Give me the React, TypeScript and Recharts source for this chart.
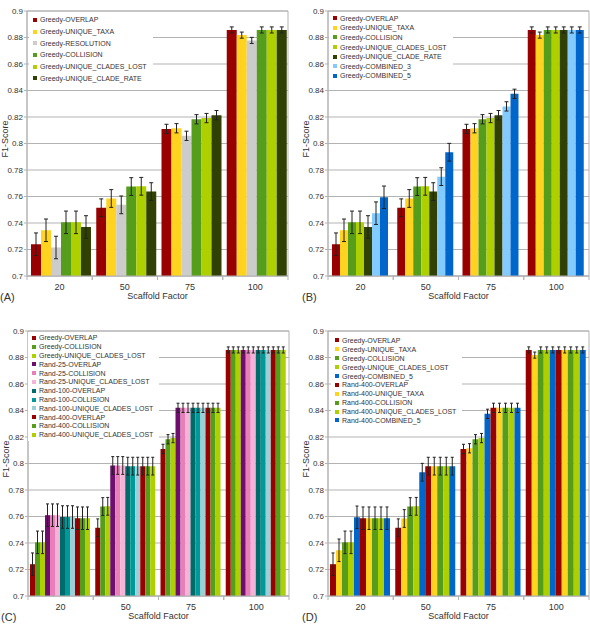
import React from "react";
import {
  BarChart,
  Bar,
  XAxis,
  YAxis,
  CartesianGrid,
  ErrorBar,
  Legend,
  ReferenceArea,
} from "recharts";

const FONT = "'Liberation Sans', Arial, sans-serif";
const TEXT = "#333";
const GRID = "#b3b3b3";

// scaffold factors on the x axis
const factors = ["20", "50", "75", "100"];
// standard error, roughly the same for every method at a given factor
const errorByFactor = [0.0085, 0.0067, 0.0035, 0.0023];
const yTicks = [0.7, 0.72, 0.74, 0.76, 0.78, 0.8, 0.82, 0.84, 0.86, 0.88, 0.9];

// F1-scores per method, one value per scaffold factor
const greedyOverlap = [0.724, 0.7515, 0.811, 0.8857];
const greedyUniqueTaxa = [0.7345, 0.7585, 0.8115, 0.8818];
const greedyResolution = [0.7215, 0.7537, 0.8058, 0.8778];
const greedyCollision = [0.7405, 0.7675, 0.8183, 0.8857];
const greedyCladesLost = [0.7405, 0.7677, 0.8192, 0.8857];
const greedyCladeRate = [0.737, 0.7637, 0.8214, 0.8857];
const greedyCombined3 = [0.7474, 0.775, 0.828, 0.8857];
const greedyCombined5 = [0.7594, 0.7934, 0.8375, 0.8857];
const rand25 = [0.761, 0.7985, 0.842, 0.8857];
const rand100 = [0.7596, 0.798, 0.842, 0.8857];
const rand400 = [0.7587, 0.798, 0.842, 0.8857];

const C = {
  overlap: "#990000",
  uniqueTaxa: "#ffd320",
  resolution: "#cccccc",
  collision: "#579d1c",
  cladesLost: "#aecf00",
  cladeRate: "#314004",
  combined3: "#83caff",
  combined5: "#0066cc",
  r25Overlap: "#6e0f6e",
  r25Collision: "#e87fb8",
  r25CladesLost: "#f6b3d8",
  r100Overlap: "#006b6b",
  r100Collision: "#009999",
  r100CladesLost: "#9fcfd6",
};

type Series = { name: string; values: number[]; color: string };

const seriesA: Series[] = [
  { name: "Greedy-OVERLAP", values: greedyOverlap, color: C.overlap },
  { name: "Greedy-UNIQUE_TAXA", values: greedyUniqueTaxa, color: C.uniqueTaxa },
  { name: "Greedy-RESOLUTION", values: greedyResolution, color: C.resolution },
  { name: "Greedy-COLLISION", values: greedyCollision, color: C.collision },
  { name: "Greedy-UNIQUE_CLADES_LOST", values: greedyCladesLost, color: C.cladesLost },
  { name: "Greedy-UNIQUE_CLADE_RATE", values: greedyCladeRate, color: C.cladeRate },
];

const seriesB: Series[] = [
  { name: "Greedy-OVERLAP", values: greedyOverlap, color: C.overlap },
  { name: "Greedy-UNIQUE_TAXA", values: greedyUniqueTaxa, color: C.uniqueTaxa },
  { name: "Greedy-COLLISION", values: greedyCollision, color: C.collision },
  { name: "Greedy-UNIQUE_CLADES_LOST", values: greedyCladesLost, color: C.cladesLost },
  { name: "Greedy-UNIQUE_CLADE_RATE", values: greedyCladeRate, color: C.cladeRate },
  { name: "Greedy-COMBINED_3", values: greedyCombined3, color: C.combined3 },
  { name: "Greedy-COMBINED_5", values: greedyCombined5, color: C.combined5 },
];

const seriesC: Series[] = [
  { name: "Greedy-OVERLAP", values: greedyOverlap, color: C.overlap },
  { name: "Greedy-COLLISION", values: greedyCollision, color: C.collision },
  { name: "Greedy-UNIQUE_CLADES_LOST", values: greedyCladesLost, color: C.cladesLost },
  { name: "Rand-25-OVERLAP", values: rand25, color: C.r25Overlap },
  { name: "Rand-25-COLLISION", values: rand25, color: C.r25Collision },
  { name: "Rand-25-UNIQUE_CLADES_LOST", values: rand25, color: C.r25CladesLost },
  { name: "Rand-100-OVERLAP", values: rand100, color: C.r100Overlap },
  { name: "Rand-100-COLLISION", values: rand100, color: C.r100Collision },
  { name: "Rand-100-UNIQUE_CLADES_LOST", values: rand100, color: C.r100CladesLost },
  { name: "Rand-400-OVERLAP", values: rand400, color: C.overlap },
  { name: "Rand-400-COLLISION", values: rand400, color: C.collision },
  { name: "Rand-400-UNIQUE_CLADES_LOST", values: rand400, color: C.cladesLost },
];

const seriesD: Series[] = [
  { name: "Greedy-OVERLAP", values: greedyOverlap, color: C.overlap },
  { name: "Greedy-UNIQUE_TAXA", values: greedyUniqueTaxa, color: C.uniqueTaxa },
  { name: "Greedy-COLLISION", values: greedyCollision, color: C.collision },
  { name: "Greedy-UNIQUE_CLADES_LOST", values: greedyCladesLost, color: C.cladesLost },
  { name: "Greedy-COMBINED_5", values: greedyCombined5, color: C.combined5 },
  { name: "Rand-400-OVERLAP", values: rand400, color: C.overlap },
  { name: "Rand-400-UNIQUE_TAXA", values: rand400, color: C.uniqueTaxa },
  { name: "Rand-400-COLLISION", values: rand400, color: C.collision },
  { name: "Rand-400-UNIQUE_CLADES_LOST", values: rand400, color: C.cladesLost },
  { name: "Rand-400-COMBINED_5", values: rand400, color: C.combined5 },
];

const buildRows = (series: Series[]) =>
  factors.map((factor, i) => {
    const row: Record<string, string | number> = { factor };
    series.forEach((s, j) => {
      row[`v${j}`] = s.values[i];
      row[`e${j}`] = errorByFactor[i];
    });
    return row;
  });

interface PanelProps {
  tag: string;
  series: Series[];
  left: number;
  top: number;
  yAxisWidth: number;
  marginRight: number;
  gap: number;
  cap: number;
  legendLeft: number;
  legendTop: number;
  rowHeight: number;
}

const W = 295;
const H = 300;
const M_TOP = 11;
const X_AXIS_H = 24;

const Panel: React.FC<PanelProps> = (p) => {
  const data = buildRows(p.series);
  const plotW = W - p.yAxisWidth - p.marginRight;
  const band = plotW / factors.length;

  // category label plus short ticks on the band edges
  const FactorTick = (t: any) => {
    const axisY = t.y - 6;
    return (
      <g>
        <line x1={t.x - band / 2} x2={t.x - band / 2} y1={axisY} y2={axisY + 4} stroke={GRID} />
        <line x1={t.x + band / 2} x2={t.x + band / 2} y1={axisY} y2={axisY + 4} stroke={GRID} />
        <text x={t.x} y={t.y} dy={8} textAnchor="middle" fontSize={9} fill={TEXT}>
          {t.payload.value}
        </text>
      </g>
    );
  };

  const LegendBox = () => (
    <div style={{ background: "#fff", padding: "2px 6px 2px 4px", fontSize: 7, color: TEXT }}>
      {p.series.map((s) => (
        <div
          key={s.name}
          style={{ display: "flex", alignItems: "center", height: p.rowHeight, whiteSpace: "nowrap" }}
        >
          <span style={{ width: 4, height: 4, background: s.color, marginRight: 3, flex: "none" }} />
          {s.name}
        </div>
      ))}
    </div>
  );

  return (
    <div style={{ position: "absolute", left: p.left, top: p.top, width: W, height: H }}>
      <BarChart
        width={W}
        height={H}
        data={data}
        margin={{ top: M_TOP, right: p.marginRight, bottom: 0, left: 0 }}
        barGap={0}
        barCategoryGap={p.gap}
      >
        <CartesianGrid vertical={false} stroke={GRID} />
        <ReferenceArea y1={0.7} y2={0.9} fill="none" stroke={GRID} ifOverflow="visible" />
        <XAxis
          dataKey="factor"
          height={X_AXIS_H}
          axisLine={{ stroke: GRID }}
          tickLine={false}
          tickSize={4}
          tickMargin={2}
          tick={FactorTick}
          interval={0}
          label={{ value: "Scaffold Factor", position: "insideBottom", offset: 1, fontSize: 9, fill: TEXT }}
        />
        <YAxis
          domain={[0.7, 0.9]}
          ticks={yTicks}
          interval={0}
          allowDataOverflow
          width={p.yAxisWidth}
          axisLine={{ stroke: GRID }}
          tickLine={{ stroke: GRID }}
          tickSize={3}
          tickMargin={1}
          tick={{ fontSize: 8, fill: TEXT }}
        />
        <Legend
          layout="vertical"
          align="center"
          verticalAlign="middle"
          wrapperStyle={{ top: p.legendTop, left: p.legendLeft, width: "auto", height: "auto" }}
          content={() => <LegendBox />}
        />
        {p.series.map((s, j) => (
          <Bar key={j} dataKey={`v${j}`} name={s.name} fill={s.color} isAnimationActive={false}>
            <ErrorBar dataKey={`e${j}`} width={p.cap} stroke="#222" strokeWidth={1} />
          </Bar>
        ))}
      </BarChart>
      <div
        style={{
          position: "absolute",
          left: p.yAxisWidth - 22,
          top: M_TOP + (H - M_TOP - X_AXIS_H) / 2 - 5,
          transform: "translate(-50%, -50%) rotate(-90deg)",
          fontSize: 9,
          color: TEXT,
          whiteSpace: "nowrap",
        }}
      >
        F1-Score
      </div>
      <div
        style={{
          position: "absolute",
          left: p.yAxisWidth - 27 + (p.left > 0 ? 1 : 0),
          top: H - 9,
          fontSize: 11,
          color: TEXT,
          whiteSpace: "nowrap",
        }}
      >
        ({p.tag})
      </div>
    </div>
  );
};

export default function App() {
  return (
    <div
      style={{
        position: "absolute",
        left: 0,
        top: 0,
        width: 590,
        height: 629,
        background: "#fff",
        fontFamily: FONT,
      }}
    >
      <Panel tag="A" series={seriesA} left={0} top={0} yAxisWidth={27} marginRight={7} gap={4} cap={2}
        legendLeft={29} legendTop={12} rowHeight={11.7} />
      <Panel tag="B" series={seriesB} left={295} top={0} yAxisWidth={33} marginRight={1} gap={4} cap={2}
        legendLeft={34} legendTop={11.5} rowHeight={9.6} />
      <Panel tag="C" series={seriesC} left={0} top={320} yAxisWidth={28} marginRight={6} gap={2} cap={1.5}
        legendLeft={28} legendTop={11.6} rowHeight={8.8} />
      <Panel tag="D" series={seriesD} left={295} top={320} yAxisWidth={33} marginRight={1} gap={2} cap={1.5}
        legendLeft={36} legendTop={14} rowHeight={8.9} />
    </div>
  );
}
